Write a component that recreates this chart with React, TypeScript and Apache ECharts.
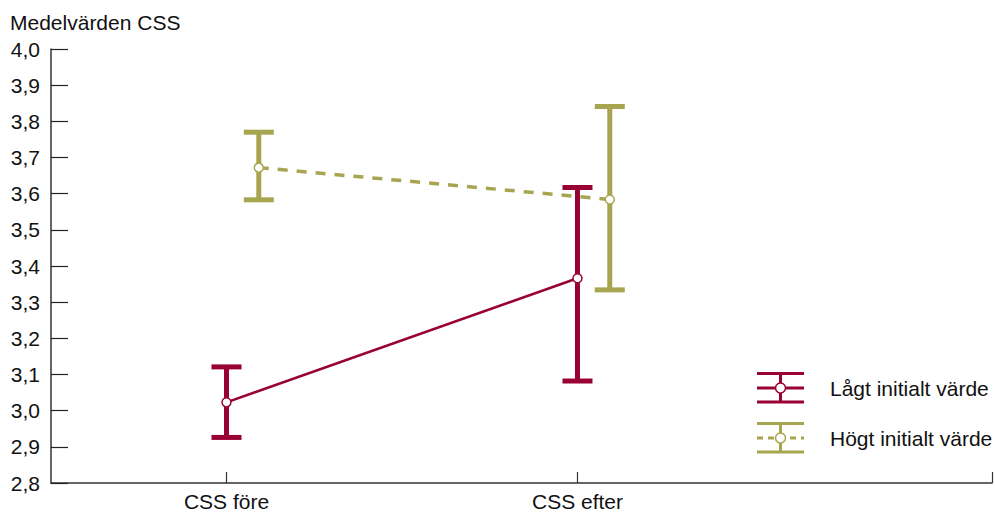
import React, { useEffect, useRef } from "react";
import * as echarts from "echarts";

const categories = ["CSS före", "CSS efter"];
const seriesNames = ["Lågt initialt värde", "Högt initialt värde"];
const lowMean = [3.023, 3.366];
const lowLower = [2.926, 3.082];
const lowUpper = [3.121, 3.617];
const highMean = [3.672, 3.584];
const highLower = [3.583, 3.334];
const highUpper = [3.77, 3.841];
const yTicks = [2.8, 2.9, 3.0, 3.1, 3.2, 3.3, 3.4, 3.5, 3.6, 3.7, 3.8, 3.9, 4.0];

const RED = "#990033";
const OLIVE = "#a8a550";
const FONT = "'Liberation Sans', Arial, sans-serif";
const X_MAX = 2.681;
const GREEN_OFFSET = 0.092;

const catX = (i: number, off: number) => i + 0.5 + off;

function errorSeries(name: string, lo: number[], hi: number[], off: number, color: string, z: number) {
  return {
    type: "custom",
    name,
    z,
    data: lo.map((l, i) => [catX(i, off), l, hi[i]]),
    renderItem: (params: any, api: any) => {
      const x = api.value(0);
      const pLo = api.coord([x, api.value(1)]);
      const pHi = api.coord([x, api.value(2)]);
      const half = 15;
      const st = { stroke: color, lineWidth: 5 };
      return {
        type: "group",
        children: [
          { type: "line", shape: { x1: pLo[0], y1: pLo[1], x2: pHi[0], y2: pHi[1] }, style: st },
          { type: "line", shape: { x1: pHi[0] - half, y1: pHi[1], x2: pHi[0] + half, y2: pHi[1] }, style: st },
          { type: "line", shape: { x1: pLo[0] - half, y1: pLo[1], x2: pLo[0] + half, y2: pLo[1] }, style: st },
        ],
      };
    },
  };
}

function meanSeries(name: string, vals: number[], off: number, color: string, dashed: boolean, z: number) {
  return {
    type: "line",
    name,
    z,
    data: vals.map((v, i) => [catX(i, off), v]),
    symbol: "circle",
    symbolSize: 9,
    itemStyle: { color: "#ffffff", borderColor: color, borderWidth: 1.5 },
    lineStyle: dashed ? { color, width: 3.5, type: [10, 9] } : { color, width: 2.5 },
  };
}

function legendItem(y: number, color: string, dashed: boolean, label: string) {
  const x0 = 757, x1 = 804, cx = 780.5, top = y - 14.5, bot = y + 14;
  return [
    { type: "line", shape: { x1: x0, y1: top, x2: x1, y2: top }, style: { stroke: color, lineWidth: 3 } },
    { type: "line", shape: { x1: x0, y1: bot, x2: x1, y2: bot }, style: { stroke: color, lineWidth: 3 } },
    { type: "line", shape: { x1: cx, y1: top, x2: cx, y2: bot }, style: { stroke: color, lineWidth: 3 } },
    {
      type: "line",
      shape: { x1: x0, y1: y, x2: x1, y2: y },
      style: { stroke: color, lineWidth: 3, lineDash: dashed ? [6, 5] : undefined },
    },
    { type: "circle", shape: { cx, cy: y, r: 5 }, style: { fill: "#fff", stroke: color, lineWidth: 1.5 } },
    {
      type: "text",
      x: 830,
      y,
      style: { text: label, fill: "#111", font: `21px ${FONT}`, verticalAlign: "middle", align: "left" },
    },
  ];
}

export default function App() {
  const ref = useRef<HTMLDivElement>(null);
  useEffect(() => {
    if (!ref.current) return;
    const chart = echarts.init(ref.current, null, { renderer: "svg" });
    chart.setOption({
      animation: false,
      backgroundColor: "#ffffff",
      textStyle: { fontFamily: FONT },
      title: {
        text: "Medelvärden CSS",
        left: 10,
        top: 12,
        padding: 0,
        textStyle: { fontSize: 21, fontWeight: "normal", color: "#111", fontFamily: FONT },
      },
      grid: { left: 51, right: 3, top: 49, bottom: 28, containLabel: false },
      xAxis: {
        type: "value",
        min: 0,
        max: X_MAX,
        splitLine: { show: false },
        axisLine: { show: true, lineStyle: { color: "#333", width: 1.5 } },
        axisTick: {
          show: true,
          inside: true,
          length: 11,
          customValues: [0.5, 1.5, X_MAX],
          lineStyle: { color: "#333", width: 1.2 },
        },
        axisLabel: {
          show: true,
          customValues: [0.5, 1.5],
          margin: 8,
          fontSize: 21,
          color: "#111",
          fontFamily: FONT,
          formatter: (v: number) => categories[Math.round(v - 0.5)] ?? "",
        },
      },
      yAxis: {
        type: "value",
        min: yTicks[0],
        max: yTicks[yTicks.length - 1],
        interval: 0.1,
        splitLine: { show: false },
        axisLine: { show: true, lineStyle: { color: "#333", width: 1.5 } },
        axisTick: { show: true, inside: true, length: 17, lineStyle: { color: "#222", width: 1.2 } },
        axisLabel: {
          margin: 11,
          fontSize: 21,
          color: "#111",
          fontFamily: FONT,
          formatter: (v: number) => v.toFixed(1).replace(".", ","),
        },
      },
      graphic: [
        ...legendItem(388, RED, false, seriesNames[0]),
        ...legendItem(438, OLIVE, true, seriesNames[1]),
      ],
      series: [
        errorSeries(seriesNames[0], lowLower, lowUpper, 0, RED, 2),
        meanSeries(seriesNames[0], lowMean, 0, RED, false, 3),
        errorSeries(seriesNames[1], highLower, highUpper, GREEN_OFFSET, OLIVE, 4),
        meanSeries(seriesNames[1], highMean, GREEN_OFFSET, OLIVE, true, 5),
      ],
    });
    return () => chart.dispose();
  }, []);
  return <div ref={ref} style={{ width: 995, height: 512, position: "absolute", left: 0, top: 0 }} />;
}
